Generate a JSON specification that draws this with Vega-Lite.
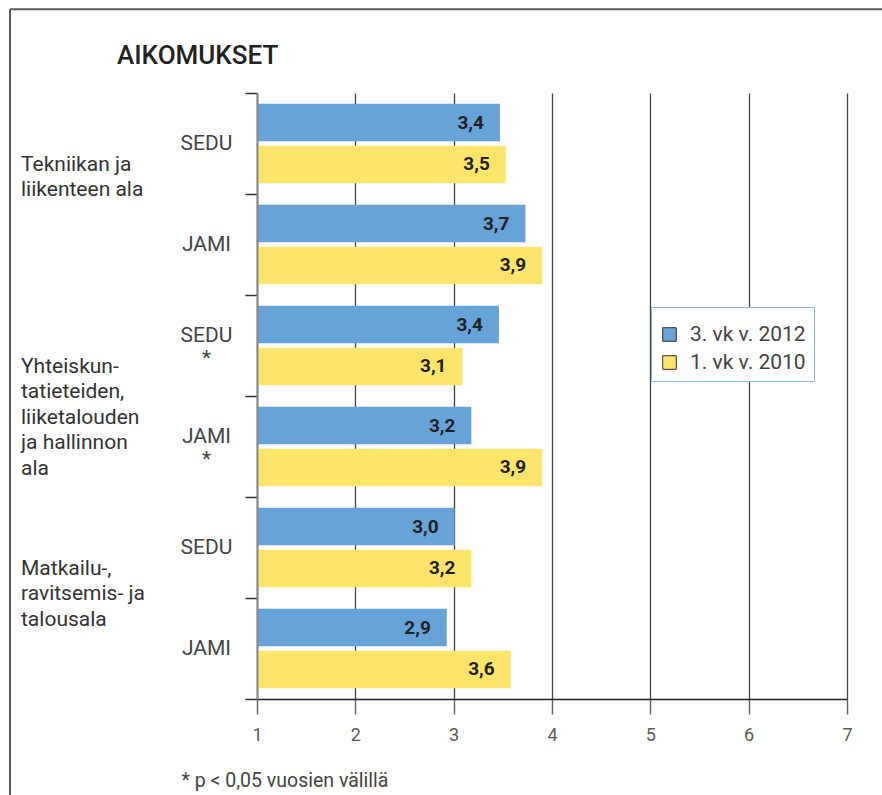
{
  "$schema": "https://vega.github.io/schema/vega-lite/v6.json",
  "width": 590,
  "height": 606,
  "autosize": {"type": "pad"},
  "padding": {"left": 8, "top": 8, "right": 0, "bottom": 0},
  "background": "white",
  "title": {
    "text": "AIKOMUKSET",
    "anchor": "start",
    "frame": "group",
    "dx": -140,
    "offset": -82,
    "baseline": "alphabetic",
    "fontSize": 26,
    "fontWeight": 500,
    "color": "#222222",
    "font": "Roboto"
  },
  "datasets": {
    "bars": [
      {"grp": "Tek|SEDU", "series": "3. vk v. 2012", "value": 3.47, "label": "3,4"},
      {"grp": "Tek|SEDU", "series": "1. vk v. 2010", "value": 3.53, "label": "3,5"},
      {"grp": "Tek|JAMI", "series": "3. vk v. 2012", "value": 3.73, "label": "3,7"},
      {"grp": "Tek|JAMI", "series": "1. vk v. 2010", "value": 3.9, "label": "3,9"},
      {"grp": "Yht|SEDU|*", "series": "3. vk v. 2012", "value": 3.46, "label": "3,4"},
      {"grp": "Yht|SEDU|*", "series": "1. vk v. 2010", "value": 3.09, "label": "3,1"},
      {"grp": "Yht|JAMI|*", "series": "3. vk v. 2012", "value": 3.18, "label": "3,2"},
      {"grp": "Yht|JAMI|*", "series": "1. vk v. 2010", "value": 3.9, "label": "3,9"},
      {"grp": "Mat|SEDU", "series": "3. vk v. 2012", "value": 3.01, "label": "3,0"},
      {"grp": "Mat|SEDU", "series": "1. vk v. 2010", "value": 3.18, "label": "3,2"},
      {"grp": "Mat|JAMI", "series": "3. vk v. 2012", "value": 2.93, "label": "2,9"},
      {"grp": "Mat|JAMI", "series": "1. vk v. 2010", "value": 3.58, "label": "3,6"}
    ],
    "schools": [
      {"grp": "Tek|SEDU", "text": "SEDU", "star": false, "pos": 0.486},
      {"grp": "Tek|JAMI", "text": "JAMI", "star": false, "pos": 0.486},
      {"grp": "Yht|SEDU|*", "text": "SEDU\n*", "star": true, "pos": 0.486},
      {"grp": "Yht|JAMI|*", "text": "JAMI\n*", "star": true, "pos": 0.486},
      {"grp": "Mat|SEDU", "text": "SEDU", "star": false, "pos": 0.486},
      {"grp": "Mat|JAMI", "text": "JAMI", "star": false, "pos": 0.486}
    ],
    "fields": [
      {"grp": "Tek|SEDU", "text": "Tekniikan ja\nliikenteen ala", "pos": -1.4},
      {"grp": "Yht|SEDU|*", "text": "Yhteiskun-\ntatieteiden,\nliiketalouden\nja hallinnon\nala", "pos": -1.4},
      {"grp": "Mat|SEDU", "text": "Matkailu-,\nravitsemis- ja\ntalousala", "pos": -1.4}
    ],
    "frame": [
      {"x": -1.512, "x2": 7.6, "y": 6.829, "y2": 6.829},
      {"x": -1.512, "x2": -1.512, "y": 6.829, "y2": -1.3}
    ]
  },
  "layer": [
    {
      "data": {"name": "frame"},
      "mark": {"type": "rule", "color": "#5a5a5a", "strokeWidth": 2},
      "encoding": {
        "x": {"field": "x", "type": "quantitative", "scale": {"domain": [1, 7], "nice": false, "zero": false}},
        "x2": {"field": "x2"},
        "y": {"field": "y", "type": "quantitative", "scale": {"domain": [0, 6], "nice": false, "zero": false}, "axis": null},
        "y2": {"field": "y2"}
      }
    },
    {
      "layer": [
        {
          "data": {"name": "bars"},
          "mark": {"type": "bar"},
          "encoding": {
            "x": {
              "field": "value",
              "type": "quantitative",
              "scale": {"domain": [1, 7], "nice": false, "zero": false},
              "axis": {
                "values": [1, 2, 3, 4, 5, 6, 7],
                "format": "d",
                "labelFlush": false,
                "grid": true,
                "gridColor": "#444444",
                "gridWidth": 1.3,
                "domainColor": "#222222",
                "domainWidth": 1.5,
                "tickColor": "#666666",
                "tickWidth": 1.5,
                "tickSize": 15,
                "labelFontSize": 18,
                "labelColor": "#5a5a5a",
                "labelPadding": 12,
                "title": "* p < 0,05 vuosien välillä",
                "titleX": -76,
                "titleY": 81,
                "titleAlign": "left",
                "titleBaseline": "middle",
                "titleFontSize": 19.5,
                "titleFontWeight": "normal",
                "titleColor": "#444444"
              }
            },
            "x2": {"datum": 1},
            "y": {
              "field": "grp",
              "type": "nominal",
              "scale": {
                "domain": ["Tek|SEDU", "Tek|JAMI", "Yht|SEDU|*", "Yht|JAMI|*", "Mat|SEDU", "Mat|JAMI"],
                "paddingInner": 0,
                "paddingOuter": 0
              },
              "axis": {
                "title": null,
                "labels": false,
                "tickBand": "extent",
                "tickSize": 12,
                "tickColor": "#333333",
                "tickWidth": 1.5,
                "domainColor": "#888888",
                "domainWidth": 2,
                "zindex": 1
              }
            },
            "yOffset": {
              "field": "series",
              "type": "nominal",
              "scale": {"domain": ["3. vk v. 2012", "1. vk v. 2010"], "paddingInner": 0.107, "paddingOuter": 0.256}
            },
            "color": {
              "field": "series",
              "type": "nominal",
              "scale": {"domain": ["3. vk v. 2012", "1. vk v. 2010"], "range": ["#67a3d7", "#ffe46c"]},
              "legend": {
                "orient": "none",
                "legendX": 394,
                "legendY": 214,
                "title": " ",
                "titleFontSize": 7,
                "titlePadding": 2,
                "strokeColor": "#8ab6de",
                "fillColor": "white",
                "padding": 8,
                "symbolType": "square",
                "symbolSize": 185,
                "symbolStrokeColor": "#333333",
                "symbolStrokeWidth": 1,
                "symbolOpacity": 1,
                "labelFontSize": 21,
                "labelColor": "#444444",
                "labelOffset": 10,
                "rowPadding": 6,
                "labelExpr": "datum.label + '\u00a0\u00a0\u00a0\u00a0\u00a0'"
              }
            }
          }
        },
        {
          "data": {"name": "bars"},
          "mark": {"type": "text", "align": "right", "baseline": "middle", "dx": -16, "fontSize": 19, "fontWeight": "bold", "color": "#222222"},
          "encoding": {
            "x": {"field": "value", "type": "quantitative"},
            "y": {"field": "grp", "type": "nominal"},
            "yOffset": {"field": "series", "type": "nominal"},
            "text": {"field": "label"}
          }
        },
        {
          "data": {"name": "schools"},
          "transform": [{"filter": "!datum.star"}],
          "mark": {"type": "text", "align": "center", "baseline": "middle", "fontSize": 21, "color": "#444444"},
          "encoding": {
            "x": {"field": "pos", "type": "quantitative"},
            "y": {"field": "grp", "type": "nominal"},
            "text": {"field": "text"}
          }
        },
        {
          "data": {"name": "schools"},
          "transform": [{"filter": "datum.star"}],
          "mark": {"type": "text", "align": "center", "baseline": "top", "fontSize": 21, "lineHeight": 23, "lineBreak": "\n", "color": "#444444"},
          "encoding": {
            "x": {"field": "pos", "type": "quantitative"},
            "y": {"field": "grp", "type": "nominal", "bandPosition": 0.295},
            "text": {"field": "text"}
          }
        },
        {
          "data": {"name": "fields"},
          "mark": {"type": "text", "align": "left", "baseline": "top", "fontSize": 21, "lineHeight": 25.5, "lineBreak": "\n", "color": "#333333"},
          "encoding": {
            "x": {"field": "pos", "type": "quantitative"},
            "y": {"field": "grp", "type": "nominal", "bandPosition": 0.6},
            "text": {"field": "text"}
          }
        }
      ]
    }
  ],
  "resolve": {"scale": {"y": "independent"}},
  "config": {
    "font": "Roboto",
    "view": {"stroke": null}
  }
}
